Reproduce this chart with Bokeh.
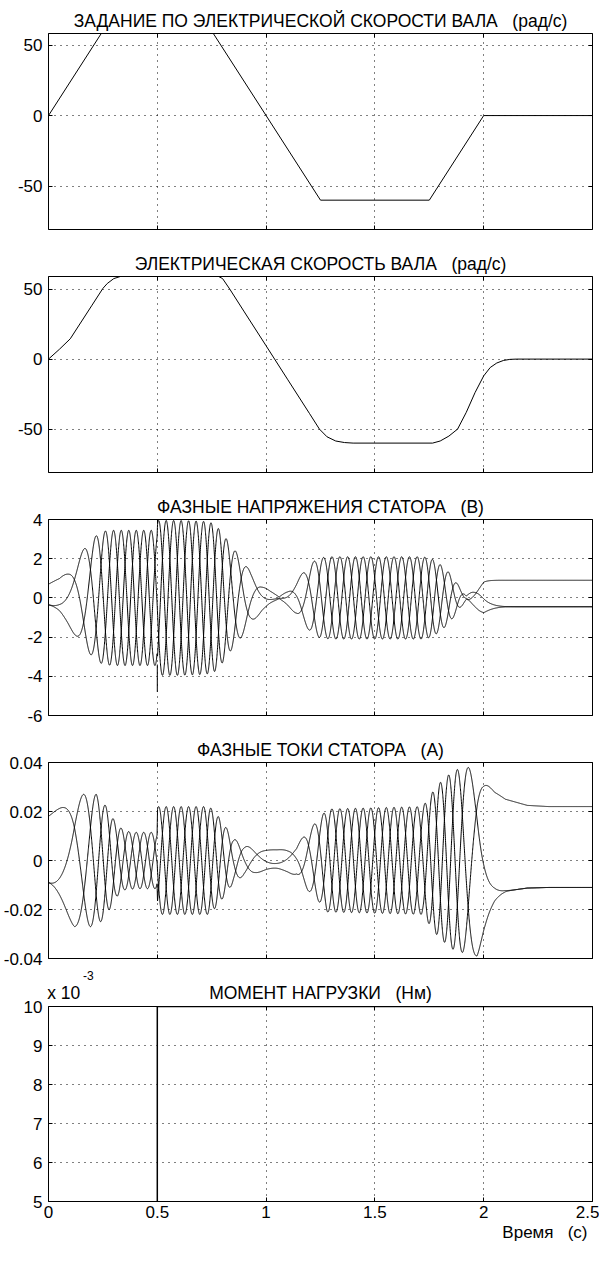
import numpy as np
from bokeh.plotting import figure
from bokeh.layouts import column
from bokeh.models import FixedTicker, LinearAxis, Range1d, Title, AllLabels
from bokeh.embed import file_html
from bokeh.resources import INLINE

# ---------------- data ----------------
x_ticks = [0, 0.5, 1, 1.5, 2, 2.5]
x_tick_labels = ["0", "0.5", "1", "1.5", "2", "2.5"]

# speed reference (rad/s)
ref_t = [0.0, 0.25, 0.75, 1.25, 1.75, 2.0, 2.5]
ref_w = [0.0, 60.0, 60.0, -60.0, -60.0, 0.0, 0.0]

# measured electrical shaft speed (rad/s)
spd_t = [0.00, 0.05, 0.10, 0.15, 0.20, 0.25, 0.27, 0.30, 0.33, 0.36, 0.77, 0.80, 0.833,
         0.90, 1.00, 1.10, 1.20, 1.245, 1.28, 1.32, 1.36, 1.40, 1.765, 1.80, 1.84, 1.88,
         1.92, 1.96, 2.00, 2.03, 2.06, 2.09, 2.12, 2.15, 2.50]
spd_w = [0.0, 7.0, 14.5, 26.5, 38.5, 50.5, 54.0, 57.5, 59.0, 60.0, 60.0, 57.5, 50.0,
         33.7, 9.5, -14.8, -39.0, -50.0, -55.5, -58.5, -59.6, -60.0, -60.0, -58.5, -55.0, -50.0,
         -38.0, -24.0, -12.0, -6.0, -2.8, -1.0, -0.2, 0.0, 0.0]

# stator phase-voltage amplitude envelope (V)
uenv_t = [0.00, 0.05, 0.09, 0.13, 0.17, 0.21, 0.25, 0.30, 0.499, 0.501, 0.60, 0.72, 0.76,
          0.80, 0.83, 0.88, 0.93, 0.98, 1.02, 1.06, 1.10, 1.14, 1.17, 1.21, 1.25, 1.30,
          1.72, 1.76, 1.80, 1.84, 1.88, 1.92, 1.96, 2.00, 2.05, 2.50]
uenv_a = [0.70, 1.00, 1.45, 2.00, 2.60, 3.10, 3.40, 3.45, 3.45, 3.95, 3.95, 3.90, 3.80,
          3.30, 2.80, 2.10, 1.30, 0.70, 0.35, 0.05, 0.40, 0.85, 1.30, 1.80, 2.05, 2.10,
          2.10, 2.00, 1.70, 1.30, 0.70, 0.10, 0.45, 0.90, 0.90, 0.90]

# stator phase-current amplitude envelope (A)
ienv_t = [0.00, 0.07, 0.12, 0.18, 0.22, 0.25, 0.28, 0.31, 0.35, 0.40, 0.499, 0.501, 0.74,
          0.78, 0.82, 0.85, 0.90, 0.95, 1.00, 1.05, 1.10, 1.14, 1.19, 1.245, 1.28, 1.72,
          1.75, 1.79, 1.84, 1.87, 1.93, 1.97, 2.00, 2.05, 2.10, 2.20, 2.30, 2.50]
ienv_a = [0.018, 0.023, 0.027, 0.027, 0.027, 0.024, 0.020, 0.015, 0.012, 0.0115, 0.0115, 0.022, 0.022,
          0.018, 0.013, 0.009, 0.006, 0.005, 0.0045, 0.0045, 0.005, 0.006, 0.012, 0.017, 0.021, 0.022,
          0.026, 0.031, 0.035, 0.037, 0.038, 0.039, 0.034, 0.028, 0.025, 0.0225, 0.022, 0.022]

# voltage spike at the load step
spike_t = [0.5, 0.5]
spike_u = [-3.4, -4.8]

# load torque (N*m)
tq_t = [0.0, 0.5, 0.5, 2.5]
tq_m = [0.0, 0.0, 0.010, 0.010]

# ---------------- waveforms (angle = integral of the read speed) ----------------
t = np.linspace(0.0, 2.5, 5001)
w = np.interp(t, spd_t, spd_w)
dt = np.diff(t)
theta = np.concatenate([[0.0], np.cumsum(0.5 * (w[1:] + w[:-1]) * dt)])
travel = np.concatenate([[0.0], np.cumsum(0.5 * (np.abs(w[1:]) + np.abs(w[:-1])) * dt)])
theta = theta - theta[-1] * travel / travel[-1]   # close the angle: start and end states agree
shifts = [0.0, -2 * np.pi / 3, 2 * np.pi / 3]
ua = np.interp(t, uenv_t, uenv_a)
ia = np.interp(t, ienv_t, ienv_a)
volts = [ua * np.cos(theta + s) for s in shifts]
amps = [ia * np.cos(theta + s) for s in shifts]

# ---------------- styling ----------------
FONT = "Liberation Sans"
W = 599
SP = "\u00a0"


def style_axis(ax, ticks, labels, size=None, standoff=0, tick_marks=True):
    ax.ticker = FixedTicker(ticks=ticks)
    ax.major_label_policy = AllLabels()
    ax.axis_line_color = None
    ax.major_tick_in = 4 if tick_marks else 0
    ax.major_tick_out = 0
    ax.major_tick_line_color = "black" if tick_marks else None
    ax.minor_tick_line_color = None
    ax.major_label_text_font = FONT
    ax.major_label_standoff = standoff
    if size:
        ax.major_label_overrides = {k: v for k, v in zip(ticks, labels)}
        ax.major_label_text_color = "black"
        ax.major_label_text_font_size = size
    else:
        # tick marks only (box ticks of the MATLAB frame): no labels at all
        ax.major_label_overrides = {k: "" for k in ticks}
        ax.major_label_text_color = None
        ax.major_label_text_font_size = "0px"


def make_fig(title, y0, y1, yticks, ylabels, h, top, bottom, xlabels=False):
    p = figure(width=W, height=h, x_range=Range1d(0, 2.5), y_range=Range1d(y0, y1),
               output_backend="svg", toolbar_location=None, title=title,
               min_border_left=45, min_border_right=7, min_border_top=top,
               min_border_bottom=bottom, background_fill_color="white",
               border_fill_color="white", outline_line_color="black",
               outline_line_width=1)
    if title is not None:
        p.title.align = "center"
        p.title.text_font = FONT
        p.title.text_font_size = "17.5px"
        p.title.text_font_style = "normal"
        p.title.text_color = "black"
        p.title.standoff = 6
    p.xaxis.visible = False
    p.yaxis.visible = False

    left = LinearAxis(); style_axis(left, yticks, ylabels, "17px", 6); p.add_layout(left, "left")
    right = LinearAxis(); style_axis(right, yticks, ylabels); p.add_layout(right, "right")
    top_ax = LinearAxis(); style_axis(top_ax, x_ticks, x_tick_labels); p.add_layout(top_ax, "above")
    bot = LinearAxis()
    if xlabels:
        style_axis(bot, x_ticks, x_tick_labels, "17px", 4)
    else:
        style_axis(bot, x_ticks, x_tick_labels)
    p.add_layout(bot, "below")

    p.xgrid.ticker = FixedTicker(ticks=x_ticks)
    p.ygrid.ticker = FixedTicker(ticks=yticks)
    for g in (p.xgrid, p.ygrid):
        g.grid_line_color = "black"
        g.grid_line_dash = "1 5"
        g.grid_line_width = 1
    return p


p1 = make_fig("ЗАДАНИЕ ПО ЭЛЕКТРИЧЕСКОЙ СКОРОСТИ ВАЛА" + SP * 3 + "(рад/с)", -80.8, 58.2,
              [-50, 0, 50], ["-50", "0", "50"], 243, 33, 14)
p1.line(ref_t, ref_w, line_color="black", line_width=1)

p2 = make_fig("ЭЛЕКТРИЧЕСКАЯ СКОРОСТЬ ВАЛА" + SP * 3 + "(рад/с)", -81.0, 59.0,
              [-50, 0, 50], ["-50", "0", "50"], 243, 33, 14)
p2.line(spd_t, spd_w, line_color="black", line_width=1)

p3 = make_fig("ФАЗНЫЕ НАПРЯЖЕНИЯ СТАТОРА" + SP * 3 + "(В)", -6, 4,
              [-6, -4, -2, 0, 2, 4], ["-6", "-4", "-2", "0", "2", "4"], 243, 33, 14)
for v in volts:
    p3.line(t, v, line_color="black", line_width=1)
p3.line(spike_t, spike_u, line_color="black", line_width=1)

p4 = make_fig("ФАЗНЫЕ ТОКИ СТАТОРА" + SP * 3 + "(А)", -0.04, 0.04,
              [-0.04, -0.02, 0, 0.02, 0.04], ["-0.04", "-0.02", "0", "0.02", "0.04"], 238, 33, 9)
for a in amps:
    p4.line(t, a, line_color="black", line_width=1)

# bottom panel: title row carries the "x 10" multiplier, a row above it the exponent
p5 = make_fig(None, 0.005, 0.010,
              [0.005, 0.006, 0.007, 0.008, 0.009, 0.010], ["5", "6", "7", "8", "9", "10"],
              278, 38, 44, xlabels=True)
head_pos = [0.07, 1.25]
head_txt = ["x 10", "МОМЕНТ НАГРУЗКИ" + SP * 3 + "(Нм)"]
head = LinearAxis()
style_axis(head, head_pos, head_txt, "17.5px", 4, tick_marks=False)
p5.add_layout(head, "above")
expo_pos = [0.183]
expo_txt = ["-3"]
expo = LinearAxis()
style_axis(expo, expo_pos, expo_txt, "12px", 0, tick_marks=False)
p5.add_layout(expo, "above")
p5.add_layout(Title(text="Время" + SP * 3 + "(с)", align="right", offset=5, standoff=1,
                    text_font=FONT, text_font_size="17px", text_font_style="normal",
                    text_color="black"), "below")
p5.line(tq_t, tq_m, line_color="black", line_width=1.5)

layout = column(p1, p2, p3, p4, p5, spacing=0)
open("out.html", "w").write(file_html(layout, INLINE))
